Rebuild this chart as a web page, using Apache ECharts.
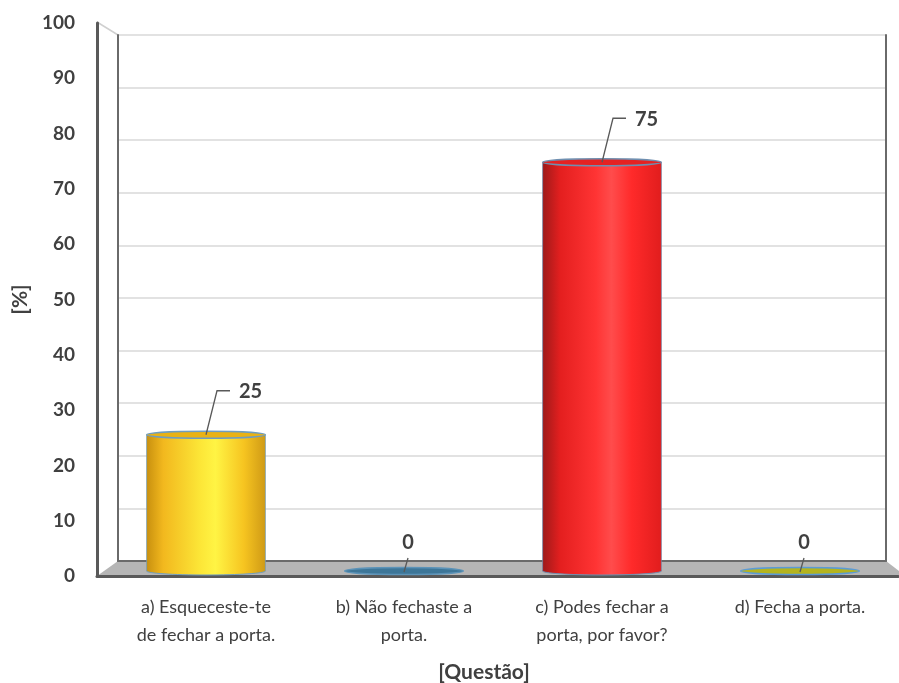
<!DOCTYPE html>
<html><head><meta charset="utf-8">
<script src="https://cdn.jsdelivr.net/npm/echarts@6/dist/echarts.min.js"></script>
<style>html,body{margin:0;padding:0;background:#fff}#c{width:899px;height:683px}</style>
</head><body><div id="c"></div>
<script>
// ---- data ----
const categories = ['a) Esqueceste-te\nde fechar a porta.', 'b) Não fechaste a\nporta.', 'c) Podes fechar a\nporta, por favor?', 'd) Fecha a porta.'];
const values = [25, 0, 75, 0];
const yMin = 0, yMax = 100, yInterval = 10;
const yAxisName = '[%]';
const xAxisName = '[Questão]';

// ---- styles ----
const palettes = [
  {body:[{offset:0,color:'#c8900f'},{offset:0.14,color:'#f2b81e'},{offset:0.45,color:'#fce637'},{offset:0.58,color:'#fff444'},{offset:0.82,color:'#f6c420'},{offset:1,color:'#cf9a16'}], top:'#e9b214', edge:'#6f9dc0', flat:'#e9b214'},
  {body:[], top:'#3d7698', edge:'#5c93b8', flat:'#3d7698'},
  {body:[{offset:0,color:'#9e1a1a'},{offset:0.15,color:'#e41f1f'},{offset:0.45,color:'#ff3434'},{offset:0.58,color:'#ff4c4c'},{offset:0.75,color:'#ff2a2a'},{offset:1,color:'#e11d1d'}], top:'#e52222', edge:'#6f8fb0', flat:'#e52222'},
  {body:[], top:'#b6b522', edge:'#5b9bd5', flat:'#b4b41e'}
];
const txt = '#404040';
const font = 'Lato, "Open Sans", sans-serif';

const chart = echarts.init(document.getElementById('c'), null, {renderer:'canvas'});
const seriesData = values.map((v, i) => [i, v]);

function cylinder(params, api) {
  const i = api.value(0), v = api.value(1);
  const base = api.coord([i, 0]), top = api.coord([i, v]);
  const w = api.size([1, 0])[0] * 0.6;
  const cx = base[0], rx = w / 2;
  const p = palettes[i];
  const kids = [];
  if (v > 0) {
    const grad = () => new echarts.graphic.LinearGradient(0, 0, 1, 0, p.body);
    kids.push({type:'ellipse', shape:{cx:cx, cy:base[1], rx:rx, ry:4}, style:{fill:grad(), stroke:p.edge, lineWidth:1}});
    kids.push({type:'rect', shape:{x:cx - rx, y:top[1], width:w, height:base[1] - top[1]}, style:{fill:grad()}});
    kids.push({type:'line', shape:{x1:cx - rx, y1:top[1], x2:cx - rx, y2:base[1]}, style:{stroke:p.edge, lineWidth:1, opacity:0.7}});
    kids.push({type:'line', shape:{x1:cx + rx, y1:top[1], x2:cx + rx, y2:base[1]}, style:{stroke:p.edge, lineWidth:1, opacity:0.7}});
    kids.push({type:'ellipse', shape:{cx:cx, cy:top[1], rx:rx, ry:3.5}, style:{fill:p.top, stroke:p.edge, lineWidth:1.5}});
  } else {
    kids.push({type:'ellipse', shape:{cx:cx, cy:base[1], rx:rx, ry:3.5}, style:{fill:p.flat, stroke:p.edge, lineWidth:1.5}});
  }
  return {type:'group', children:kids};
}

function leader(params, api) {
  const i = api.value(0), v = api.value(1);
  const p = api.coord([i, v]);
  const kids = [];
  const lf = 'bold 20px ' + font;
  if (v > 0) {
    kids.push({type:'polyline', shape:{points:[[p[0], p[1]], [p[0] + 11, p[1] - 44], [p[0] + 24, p[1] - 44]]}, style:{stroke:'#595959', lineWidth:1.3, fill:null}});
    kids.push({type:'text', x:p[0] + 33, y:p[1] - 43, style:{text:String(v), font:lf, fill:txt, align:'left', verticalAlign:'middle'}});
  } else {
    kids.push({type:'line', shape:{x1:p[0], y1:p[1] + 1, x2:p[0] + 4, y2:p[1] - 13}, style:{stroke:'#595959', lineWidth:1.3}});
    kids.push({type:'text', x:p[0] + 4, y:p[1] - 28, style:{text:String(v), font:lf, fill:txt, align:'center', verticalAlign:'middle'}});
  }
  return {type:'group', children:kids};
}

const option = {
  animation: false,
  backgroundColor: '#fff',
  title: {text: xAxisName, left: 484, top: 660, textAlign: 'center', padding: 0,
    textStyle: {fontFamily: font, fontWeight: 'bold', fontSize: 21, color: txt, lineHeight: 24}},
  grid: [
    {left: 97, right: 1, top: 23, bottom: 107},   // front frame + labels
    {left: 118, right: 13, top: 35, bottom: 122}, // back wall
    {left: 107, right: 0, top: 26, bottom: 112}   // bars
  ],
  xAxis: [
    {gridIndex: 0, type: 'value', min: 0, max: 1, axisLine: {show: true, lineStyle: {color: '#595959', width: 3}}, axisTick: {show: false}, axisLabel: {show: false}, splitLine: {show: false}},
    {gridIndex: 1, type: 'value', min: 0, max: 1, axisLine: {show: true, lineStyle: {color: '#6a6a6a', width: 2}}, axisTick: {show: false}, axisLabel: {show: false}, splitLine: {show: false}},
    {gridIndex: 2, type: 'category', data: categories, axisLine: {show: false}, axisTick: {show: false},
      axisLabel: {margin: 22, fontFamily: font, fontSize: 18, color: txt, lineHeight: 28, interval: 0}}
  ],
  yAxis: [
    {gridIndex: 0, type: 'value', min: yMin, max: yMax, interval: yInterval,
      name: yAxisName, nameLocation: 'middle', nameGap: 64, nameRotate: 90,
      nameTextStyle: {fontFamily: font, fontWeight: 'bold', fontSize: 21, color: txt},
      axisLine: {show: true, lineStyle: {color: '#595959', width: 3}}, axisTick: {show: false},
      axisLabel: {margin: 22, fontFamily: font, fontWeight: 'bold', fontSize: 19, color: txt},
      splitLine: {show: false}},
    {gridIndex: 1, type: 'value', min: yMin, max: yMax, interval: yInterval,
      axisLine: {show: true, lineStyle: {color: '#6a6a6a', width: 2}}, axisTick: {show: false}, axisLabel: {show: false},
      splitLine: {show: true, lineStyle: {color: '#e2e2e2', width: 2}}},
    {gridIndex: 1, type: 'value', position: 'right', min: yMin, max: yMax, interval: yInterval,
      axisLine: {show: true, lineStyle: {color: '#6a6a6a', width: 2}}, axisTick: {show: false}, axisLabel: {show: false},
      splitLine: {show: false}},
    {gridIndex: 2, type: 'value', min: yMin, max: yMax, interval: yInterval, show: false}
  ],
  graphic: [
    {type: 'polygon', z: -1, shape: {points: [[97, 576], [118, 561], [886, 561], [899, 571], [899, 576]]}, style: {fill: '#b5b5b5'}},
    {type: 'line', z: -1, shape: {x1: 97, y1: 22, x2: 118, y2: 35}, style: {stroke: '#d0d0d0', lineWidth: 1.5}}
  ],
  series: [
    {type: 'custom', xAxisIndex: 2, yAxisIndex: 3, data: seriesData, renderItem: cylinder, z: 3},
    {type: 'custom', xAxisIndex: 2, yAxisIndex: 3, data: seriesData, renderItem: leader, z: 4}
  ]
};
chart.setOption(option);
</script>
</body></html>
